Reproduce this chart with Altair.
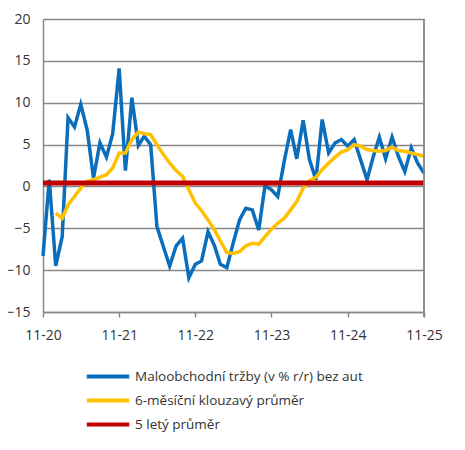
import pandas as pd
import altair as alt

# monthly data 11-2020 .. 11-2025
months = pd.date_range("2020-11-01", periods=61, freq="MS")

retail = [-8.3, 0.8, -9.5, -6.0, 8.2, 7.1, 9.8, 6.7, 1.0, 5.2, 3.5, 6.3,
          14.1, 1.9, 10.6, 4.9, 6.0, 5.0, -4.8, -7.2, -9.5, -7.1, -6.2, -10.9,
          -9.3, -8.9, -5.4, -7.1, -9.3, -9.7, -6.8, -4.0, -2.6, -2.8, -5.2, 0.1,
          -0.4, -1.2, 3.0, 6.8, 3.3, 7.9, 3.2, 0.8, 8.0, 4.0, 5.2, 5.6,
          4.8, 5.6, 3.2, 0.8, 3.4, 5.9, 3.3, 5.9, 3.6, 1.8, 4.6, 2.8, 1.6]

# 6-month moving average, drawn from 01-2021
moving_avg = [-3.2, -3.8, -2.2, -1.2, -0.2, 0.6, 0.8, 1.1, 1.4, 2.2,
              4.0, 4.0, 5.6, 6.5, 6.3, 6.2, 5.0, 3.8, 2.8, 1.9, 1.2, -0.4,
              -2.0, -2.9, -4.0, -5.2, -6.5, -7.9, -8.0, -7.8, -7.1, -6.8, -6.9, -6.0,
              -5.1, -4.4, -3.8, -2.8, -1.8, -0.2, 0.7, 1.1, 2.0, 2.8, 3.5, 4.1,
              4.4, 5.0, 4.8, 4.4, 4.3, 4.2, 4.3, 4.7, 4.3, 4.2, 4.0, 3.8, 3.6]

five_year_avg = 0.4

series_names = ["Maloobchodní tržby (v % r/r) bez aut",
                "6-měsíční klouzavý průměr",
                "5 letý průměr"]
series_colors = ["#0A6EBD", "#FFC000", "#C00000"]
tick_years = [2020, 2021, 2022, 2023, 2024, 2025]

blue = pd.DataFrame({"date": months, "value": retail, "series": series_names[0]})
orange = pd.DataFrame({"date": months[2:], "value": moving_avg, "series": series_names[1]})
red = pd.DataFrame({"date": [months[0], months[-1]], "value": [five_year_avg] * 2,
                    "series": series_names[2]})

x_enc = alt.X("date:T", title=None,
              scale=alt.Scale(domain=[alt.DateTime(year=2020, month=11, date=1),
                                      alt.DateTime(year=2025, month=11, date=1)]),
              axis=alt.Axis(values=[alt.DateTime(year=y, month=11, date=1) for y in tick_years],
                            format="%m-%y", grid=False, tickSize=5, tickWidth=1.5,
                            tickColor="#888888", domainColor="#888888", domainWidth=1.5,
                            labelFlush=False, labelPadding=11, labelFontSize=14,
                            labelColor="#333333"))
y_enc = alt.Y("value:Q", title=None,
              scale=alt.Scale(domain=[-15, 20], nice=False, zero=False),
              axis=alt.Axis(values=list(range(-15, 21, 5)), ticks=False,
                            gridColor="#888888", gridWidth=1.5, domainColor="#888888",
                            domainWidth=1.5, labelPadding=13, labelFontSize=14,
                            labelColor="#333333"))
# long line symbol, kept short in height so rows stay close together
color_enc = alt.Color("series:N", title=None,
                      scale=alt.Scale(domain=series_names, range=series_colors),
                      legend=alt.Legend(orient="none", legendX=54.5, legendY=347,
                                        symbolType="M-2.5,0H2.5", symbolSize=289,
                                        symbolStrokeWidth=4, labelFontSize=13.5,
                                        labelColor="#333333", rowPadding=5,
                                        labelOffset=16.5, symbolOffset=0,
                                        labelLimit=400))

l_blue = alt.Chart(blue).mark_line(strokeWidth=3.5).encode(x=x_enc, y=y_enc, color=color_enc)
l_orange = alt.Chart(orange).mark_line(strokeWidth=3.5).encode(x=x_enc, y=y_enc, color=color_enc)
l_red = alt.Chart(red).mark_line(strokeWidth=5).encode(x=x_enc, y=y_enc, color=color_enc)
right_edge = alt.Chart(red).mark_rule(color="#888888", strokeWidth=1.5).encode(
    x=alt.value(381), y=alt.value(0), y2=alt.value(298))

chart = (l_blue + l_orange + l_red + right_edge).properties(
    width=381, height=293, autosize="none",
    padding={"left": 35, "top": 11, "right": 33, "bottom": 130},
).configure_view(stroke=None).configure(font="Open Sans")

chart.save("out.html", embed_options={"renderer": "svg", "actions": False})
